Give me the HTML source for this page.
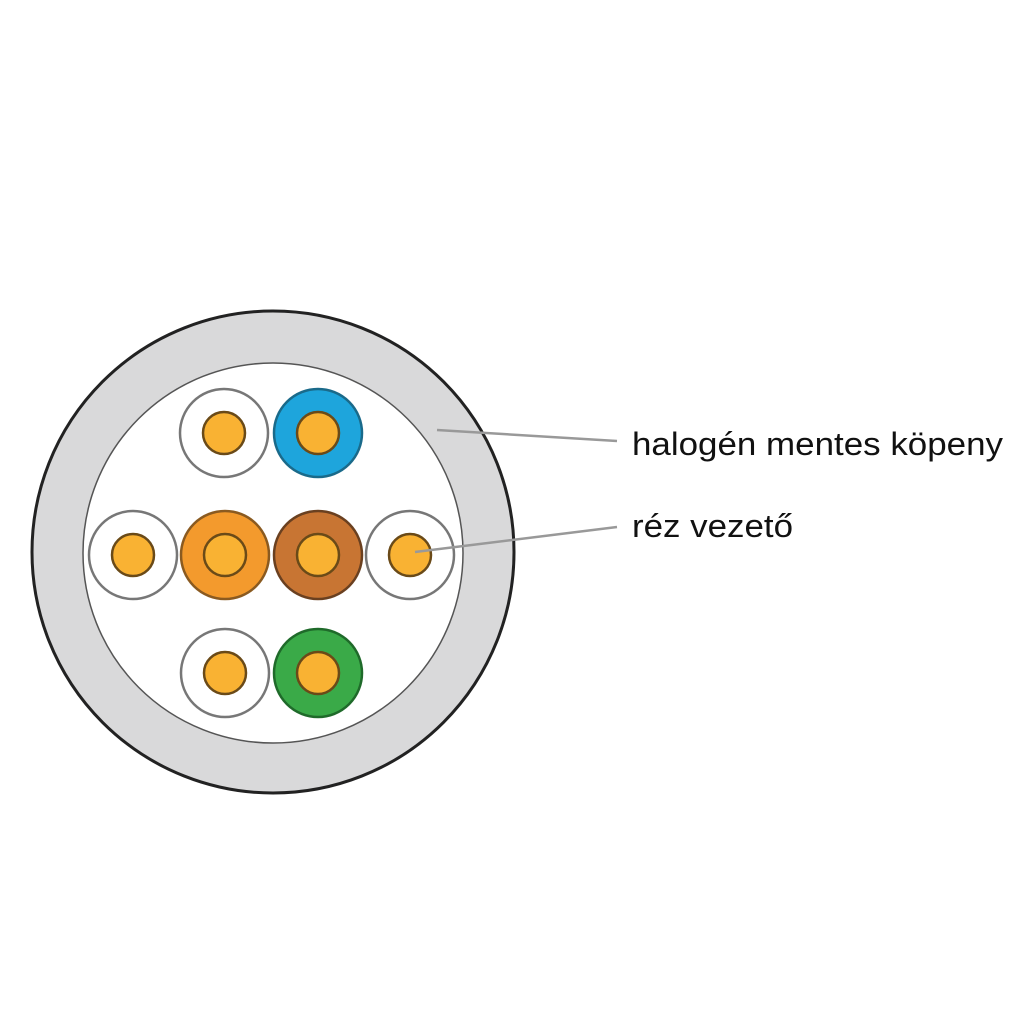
<!DOCTYPE html>
<html><head><style>html,body{margin:0;padding:0;background:#fff}</style></head><body>
<svg width="1024" height="1024" viewBox="0 0 1024 1024" xmlns="http://www.w3.org/2000/svg">
<rect width="1024" height="1024" fill="#fff"/>
<circle cx="273" cy="552" r="241" fill="#d9d9da" stroke="#222" stroke-width="3"/>
<circle cx="273" cy="553" r="190" fill="#fff" stroke="#555" stroke-width="1.5"/>
<g stroke-width="2.5">
<circle cx="224" cy="433" r="44" fill="#fff" stroke="#777"/>
<circle cx="318" cy="433" r="44" fill="#1ea5dc" stroke="#1a6a8a"/>
<circle cx="133" cy="555" r="44" fill="#fff" stroke="#777"/>
<circle cx="225" cy="555" r="44" fill="#f39a2d" stroke="#8a5a20"/>
<circle cx="318" cy="555" r="44" fill="#c87533" stroke="#6a4020"/>
<circle cx="410" cy="555" r="44" fill="#fff" stroke="#777"/>
<circle cx="225" cy="673" r="44" fill="#fff" stroke="#777"/>
<circle cx="318" cy="673" r="44" fill="#3aaa48" stroke="#1f6a2a"/>
</g>
<g fill="#f9b233" stroke="#6a4a18" stroke-width="2.5">
<circle cx="224" cy="433" r="21"/>
<circle cx="318" cy="433" r="21"/>
<circle cx="133" cy="555" r="21"/>
<circle cx="225" cy="555" r="21"/>
<circle cx="318" cy="555" r="21"/>
<circle cx="410" cy="555" r="21"/>
<circle cx="225" cy="673" r="21"/>
<circle cx="318" cy="673" r="21"/>
</g>
<line x1="437" y1="430" x2="617" y2="441" stroke="#999" stroke-width="2.5"/>
<line x1="415" y1="552" x2="617" y2="527" stroke="#999" stroke-width="2.5"/>
<g font-family="Liberation Sans, sans-serif" font-size="32" fill="#111">
<text x="632" y="455" textLength="371" lengthAdjust="spacingAndGlyphs">halogén mentes köpeny</text>
<text x="632" y="537" textLength="161" lengthAdjust="spacingAndGlyphs">réz vezető</text>
</g>
</svg>
</body></html>
